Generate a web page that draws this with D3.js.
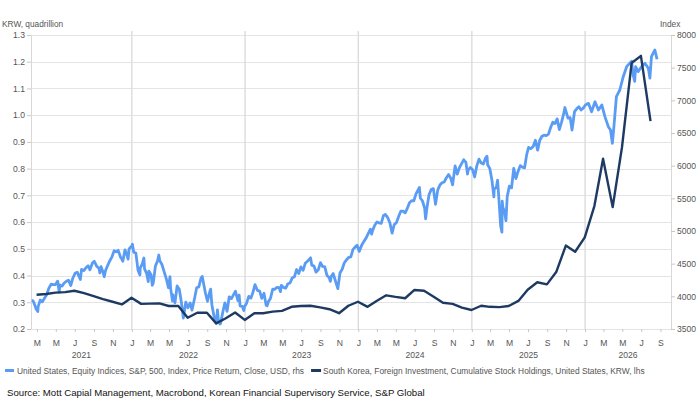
<!DOCTYPE html>
<html>
<head>
<meta charset="utf-8">
<script src="https://cdn.jsdelivr.net/npm/d3@7/dist/d3.min.js"></script>
<style>
  body { margin: 0; background: #fff; }
  svg { display: block; font-family: "Liberation Sans", Arial, sans-serif; }
</style>
</head>
<body>
<div id="chart-area"></div>
<script>
// South Korea, foreign investment, cumulative US stock holdings (KRW quadrillion), month-end, from Feb 2021
const krwStart = "2021-02";
const krw2021 = [0.328, 0.331, 0.336, 0.338, 0.343, 0.334, 0.323, 0.312, 0.302, 0.292, 0.317];
const krw2022 = [0.294, 0.295, 0.296, 0.286, 0.286, 0.242, 0.261, 0.261, 0.221, 0.240, 0.262, 0.234];
const krw2023 = [0.259, 0.259, 0.265, 0.268, 0.283, 0.286, 0.287, 0.281, 0.274, 0.259, 0.287, 0.302];
const krw2024 = [0.283, 0.305, 0.326, 0.320, 0.315, 0.346, 0.343, 0.321, 0.298, 0.294, 0.280, 0.271];
const krw2025 = [0.287, 0.283, 0.282, 0.286, 0.305, 0.347, 0.375, 0.367, 0.413, 0.512, 0.489, 0.543];
const krw2026 = [0.660, 0.837, 0.656, 0.880, 1.195, 1.222, 0.978];

// S&P 500 close (rhs), [month-day, value]
const spx2021 = [["02-12",3934],["02-16",3933],["02-19",3907],["02-25",3829],["02-26",3811],["03-04",3768],["03-05",3842],
  ["03-12",3943],["03-18",3915],["03-26",3975],["04-01",4020],["04-09",4129],["04-16",4185],["04-23",4180],["04-30",4181],
  ["05-07",4233],["05-12",4063],["05-14",4174],["05-21",4156],["05-28",4204],["06-04",4230],["06-11",4247],["06-18",4166],
  ["06-25",4281],["07-02",4352],["07-09",4370],["07-19",4258],["07-23",4412],["07-30",4395],["08-06",4437],["08-13",4468],
  ["08-19",4406],["08-27",4509],["09-02",4537],["09-10",4459],["09-17",4433],["09-20",4358],["09-24",4455],["10-01",4357],
  ["10-04",4300],["10-08",4391],["10-15",4471],["10-22",4545],["10-29",4605],["11-05",4697],["11-12",4682],["11-18",4704],
  ["11-26",4595],["11-30",4567],["12-03",4538],["12-10",4712],["12-17",4620],["12-20",4568],["12-23",4725],["12-31",4766]];
const spx2022 = [["01-03",4796],["01-07",4677],["01-14",4662],["01-21",4398],["01-27",4326],["01-28",4432],["02-04",4500],
  ["02-09",4587],["02-11",4419],["02-18",4349],["02-23",4225],["02-25",4385],["03-04",4329],["03-08",4170],["03-11",4204],
  ["03-18",4463],["03-25",4543],["03-29",4632],["04-01",4546],["04-08",4488],["04-14",4393],["04-22",4272],["04-29",4132],
  ["05-04",4300],["05-06",4123],["05-12",3930],["05-13",4024],["05-20",3901],["05-27",4158],["06-03",4109],["06-10",3901],
  ["06-16",3667],["06-24",3912],["07-01",3825],["07-08",3899],["07-14",3790],["07-22",3962],["07-29",4130],["08-05",4145],
  ["08-12",4280],["08-16",4305],["08-19",4228],["08-26",4058],["09-02",3924],["09-09",4067],["09-12",4110],["09-16",3873],
  ["09-23",3693],["09-30",3586],["10-04",3791],["10-07",3640],["10-12",3577],["10-14",3583],["10-21",3753],["10-28",3901],
  ["11-04",3771],["11-11",3993],["11-18",3965],["11-25",4026],["12-01",4077],["12-09",3934],["12-13",4019],["12-16",3852],
  ["12-23",3845],["12-28",3783],["12-30",3840]];
const spx2023 = [["01-06",3895],["01-13",3999],["01-20",3973],["01-27",4071],["02-02",4179],["02-10",4090],["02-17",4079],
  ["02-24",3970],["03-03",4046],["03-10",3862],["03-13",3855],["03-17",3917],["03-24",3971],["03-31",4109],["04-06",4105],
  ["04-14",4138],["04-21",4133],["04-25",4071],["04-28",4169],["05-05",4136],["05-12",4124],["05-19",4192],["05-26",4205],
  ["06-02",4282],["06-09",4299],["06-16",4410],["06-23",4348],["06-30",4450],["07-07",4399],["07-14",4505],["07-21",4536],
  ["07-31",4589],["08-04",4478],["08-11",4464],["08-18",4370],["08-25",4406],["09-01",4516],["09-08",4457],["09-15",4450],
  ["09-22",4320],["09-29",4288],["10-03",4229],["10-06",4308],["10-12",4349],["10-20",4224],["10-27",4117],["11-03",4358],
  ["11-10",4415],["11-17",4514],["11-24",4559],["12-01",4595],["12-08",4604],["12-15",4719],["12-22",4754],["12-28",4783]];
const spx2024 = [["01-04",4688],["01-12",4784],["01-19",4840],["01-26",4891],["02-02",4959],["02-09",5027],["02-13",4953],
  ["02-16",5006],["02-23",5089],["03-01",5137],["03-08",5124],["03-15",5117],["03-22",5234],["03-28",5254],["04-05",5204],
  ["04-12",5123],["04-19",4967],["04-26",5100],["05-03",5128],["05-10",5223],["05-17",5303],["05-24",5305],["05-31",5278],
  ["06-07",5347],["06-14",5432],["06-21",5465],["06-28",5460],["07-05",5567],["07-16",5667],["07-19",5505],["07-26",5459],
  ["08-02",5346],["08-05",5186],["08-09",5344],["08-16",5554],["08-23",5634],["08-30",5648],["09-06",5408],["09-13",5626],
  ["09-20",5703],["09-27",5738],["10-04",5751],["10-11",5815],["10-18",5864],["10-25",5808],["10-31",5705],["11-08",5996],
  ["11-15",5870],["11-22",5969],["11-29",6032],["12-06",6090],["12-13",6051],["12-18",5872],["12-20",5931],["12-27",5971]];
const spx2025 = [["01-03",5942],["01-10",5827],["01-17",5997],["01-24",6101],["01-31",6041],["02-07",6026],["02-14",6115],
  ["02-19",6144],["02-21",6013],["02-28",5955],["03-07",5770],["03-13",5522],["03-14",5639],["03-21",5668],["03-25",5777],
  ["03-28",5581],["04-04",5074],["04-08",4983],["04-09",5457],["04-11",5363],["04-17",5283],["04-21",5158],["04-25",5525],
  ["05-02",5687],["05-09",5660],["05-16",5958],["05-23",5803],["05-30",5912],["06-06",6000],["06-13",5977],["06-20",5967],
  ["06-27",6173],["07-03",6279],["07-11",6260],["07-18",6297],["07-25",6389],["08-01",6238],["08-08",6389],["08-15",6450],
  ["08-22",6467],["08-29",6460],["09-05",6482],["09-12",6584],["09-19",6664],["09-26",6644],["10-03",6716],["10-10",6553],
  ["10-17",6664],["10-24",6792],["10-28",6890],["10-31",6840],["11-07",6728],["11-14",6734],["11-20",6546],["11-28",6826],
  ["12-05",6870],["12-12",6903],["12-19",6852],["12-26",6880]];
const spx2026 = [["01-02",6929],["01-12",6954],["01-22",6826],["02-02",6979],["02-13",6852],["02-24",6929],["03-06",6750],
  ["03-17",6597],["03-24",6546],["03-30",6342],["04-04",6597],["04-12",7056],["04-23",7158],["05-04",7362],["05-15",7515],
  ["05-31",7600],["06-05",7388],["06-10",7290],["06-13",7515],["06-21",7439],["07-02",7515],["07-13",7567],["07-24",7490],
  ["07-29",7340],["08-03",7668],["08-14",7771],["08-21",7628]];

// axes
const leftTicks = [0.2, 0.3, 0.4, 0.5, 0.6, 0.7, 0.8, 0.9, 1.0, 1.1, 1.2, 1.3];
const rightTicks = [3500, 4000, 4500, 5000, 5500, 6000, 6500, 7000, 7500, 8000];
const years = [2021, 2022, 2023, 2024, 2025, 2026];

const spxLabel = "United States, Equity Indices, S&P, 500, Index, Price Return, Close, USD, rhs";
const krwLabel = "South Korea, Foreign Investment, Cumulative Stock Holdings, United States, KRW, lhs";
const sourceText = "Source: Mott Capial Management, Macrobond, Korean Financial Supervisory Service, S&P Global";

const lightBlue = "#5a9cf4";
const darkBlue = "#1e3a63";

const W = 700, H = 404;
const plot = { left: 31, right: 671, top: 35, bottom: 329 };

// build series
const parseDay = d3.timeParse("%Y-%m-%d");
const spxData = [];
[[2021, spx2021], [2022, spx2022], [2023, spx2023], [2024, spx2024], [2025, spx2025], [2026, spx2026]]
  .forEach(([yr, arr]) => arr.forEach(d => spxData.push({ date: parseDay(yr + "-" + d[0]), value: d[1] })));

const krwValues = [].concat(krw2021, krw2022, krw2023, krw2024, krw2025, krw2026);
const krwFirst = d3.timeParse("%Y-%m")(krwStart);
const krwData = krwValues.map((v, i) => ({
  date: d3.timeDay.offset(d3.timeMonth.offset(krwFirst, i + 1), -1),   // month end
  value: v
}));

const svg = d3.select("#chart-area").append("svg")
  .attr("width", W)
  .attr("height", H);

const x = d3.scaleTime()
  .domain([new Date(2021, 1, 10), new Date(2026, 9, 5)])
  .range([plot.left, plot.right]);
const yL = d3.scaleLinear().domain([0.2, 1.3]).range([plot.bottom, plot.top]);
const yR = d3.scaleLinear().domain([3500, 8000]).range([plot.bottom, plot.top]);

// horizontal grid (left axis)
svg.append("g").selectAll("line")
  .data(leftTicks)
  .enter().append("line")
    .attr("x1", plot.left).attr("x2", plot.right)
    .attr("y1", d => Math.round(yL(d)) + 0.5).attr("y2", d => Math.round(yL(d)) + 0.5)
    .attr("stroke", "#e4e4e4");

// vertical grid at each January
svg.append("g").selectAll("line")
  .data(years.slice(1))
  .enter().append("line")
    .attr("x1", d => x(new Date(d, 0, 1))).attr("x2", d => x(new Date(d, 0, 1)))
    .attr("y1", plot.top - 4).attr("y2", plot.bottom)
    .attr("stroke", "#dcdcdc")
    .attr("stroke-width", 1.4);

// left axis
const gL = svg.append("g")
  .attr("transform", `translate(${plot.left},0)`)
  .call(d3.axisLeft(yL).tickValues(leftTicks).tickFormat(d3.format(".1f")).tickSize(4).tickPadding(2));
// right axis
const gR = svg.append("g")
  .attr("transform", `translate(${plot.right},0)`)
  .call(d3.axisRight(yR).tickValues(rightTicks).tickFormat(d3.format("d")).tickSize(4).tickPadding(2));
// bottom axis (months)
const gB = svg.append("g")
  .attr("transform", `translate(0,${plot.bottom})`)
  .call(d3.axisBottom(x).ticks(d3.timeMonth.every(2))
    .tickFormat(d => d3.timeFormat("%b")(d).charAt(0)).tickSize(3).tickPadding(8));

[gL, gR, gB].forEach(g => {
  g.select(".domain").attr("stroke", "#d8d8d8");
  g.selectAll(".tick line").attr("stroke", "#c8c8c8");
  g.selectAll("text").attr("fill", "#555").style("font-size", "8.6px");
});
gB.select(".domain").remove();

// year labels, centred on the visible part of each year
const dom = x.domain();
svg.append("g").selectAll("text")
  .data(years)
  .enter().append("text")
    .attr("x", d => {
      const a = Math.max(+new Date(d, 0, 1), +dom[0]);
      const b = Math.min(+new Date(d + 1, 0, 1), +dom[1]);
      return (x(new Date(a)) + x(new Date(b))) / 2;
    })
    .attr("y", 357.5)
    .attr("text-anchor", "middle")
    .attr("fill", "#555")
    .style("font-size", "8.6px")
    .text(d => d);

// axis titles
svg.append("text").attr("x", 2).attr("y", 26.5).attr("fill", "#555").style("font-size", "8.3px").text("KRW, quadrillion");
svg.append("text").attr("x", 660).attr("y", 26.5).attr("fill", "#555").style("font-size", "8.3px").text("Index");

// lines
const spxLine = d3.line().x(d => x(d.date)).y(d => yR(d.value));
const krwLine = d3.line().x(d => x(d.date)).y(d => yL(d.value));

svg.append("path")
  .datum(spxData)
  .attr("fill", "none")
  .attr("stroke", lightBlue)
  .attr("stroke-width", 2.8)
  .attr("stroke-linejoin", "round")
  .attr("d", spxLine);

svg.append("path")
  .datum(krwData)
  .attr("fill", "none")
  .attr("stroke", darkBlue)
  .attr("stroke-width", 2.4)
  .attr("stroke-linejoin", "round")
  .attr("d", krwLine);

// legend
const legend = svg.append("g").style("font-size", "8.4px");
legend.append("line").attr("x1", 5).attr("x2", 14).attr("y1", 370.5).attr("y2", 370.5)
  .attr("stroke", lightBlue).attr("stroke-width", 3);
const t1 = legend.append("text").attr("x", 17).attr("y", 373.5).attr("fill", "#555").text(spxLabel);
const x2 = 17 + t1.node().getComputedTextLength() + 7;
legend.append("line").attr("x1", x2).attr("x2", x2 + 10).attr("y1", 370.5).attr("y2", 370.5)
  .attr("stroke", darkBlue).attr("stroke-width", 3);
legend.append("text").attr("x", x2 + 12).attr("y", 373.5).attr("fill", "#555").text(krwLabel);

// source
svg.append("text").attr("x", 7).attr("y", 396).attr("fill", "#111").style("font-size", "9.65px").text(sourceText);
</script>
</body>
</html>
